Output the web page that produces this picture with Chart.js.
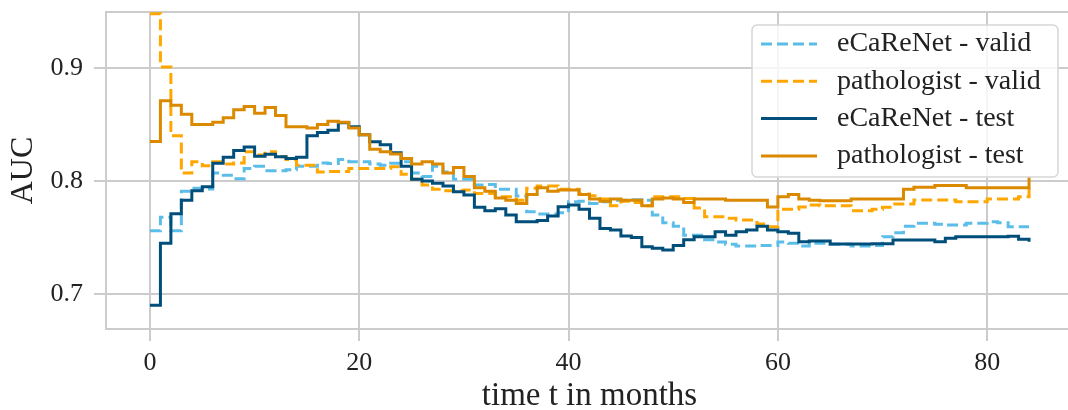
<!DOCTYPE html>
<html>
<head>
<meta charset="utf-8">
<script src="https://cdn.jsdelivr.net/npm/chart.js@4"></script>
<style>
html,body{margin:0;padding:0;background:#fff;overflow:hidden;}
canvas{display:block;}
</style>
</head>
<body>
<canvas id="aucChart" width="1074" height="410"></canvas>
<script>
// step change points (months, AUC)
const ecarenetValidT = [0,1,2,3,4,5,6,7,8,9,10,11,13,14,16,17,18,19,21,22,23,24,25,26,27,28,29,31,32,33,35,36,37,39,40,41,42,43,44,46,47,48,49,50,51,53,54,55,56,58,60,61,62,63,65,67,69,70,71,72,73,75,76,78,80,81,82,84];
const ecarenetValidAuc = [0.756,0.768,0.756,0.791,0.7935,0.793,0.807,0.805,0.802,0.811,0.813,0.809,0.810,0.813,0.816,0.8155,0.819,0.817,0.815,0.814,0.8157,0.817,0.807,0.804,0.813,0.808,0.8015,0.7965,0.797,0.7926,0.7867,0.7728,0.7708,0.772,0.7817,0.782,0.780,0.7817,0.783,0.7835,0.783,0.770,0.763,0.760,0.752,0.748,0.746,0.744,0.7425,0.743,0.746,0.745,0.7425,0.745,0.744,0.7425,0.743,0.7507,0.7543,0.760,0.7626,0.7617,0.761,0.7626,0.764,0.763,0.7596,0.7596];

const pathoValidT = [0,1,2,3,4,5,6,7,8,9,10,11,12,13,14,16,17,19,23,24,25,26,27,28,30,31,33,35,36,37,39,41,42,43,44,45,46,47,48,51,52,53,55,56,58,59,60,62,63,64,67,69,70,71,73,77,80,83,84];
const pathoValidAuc = [0.948,0.901,0.840,0.807,0.817,0.8135,0.817,0.815,0.816,0.826,0.823,0.826,0.8215,0.819,0.814,0.808,0.8085,0.811,0.8127,0.806,0.8015,0.7965,0.7926,0.7914,0.792,0.789,0.786,0.783,0.7935,0.7956,0.7926,0.7885,0.787,0.784,0.778,0.782,0.781,0.778,0.786,0.7845,0.776,0.7684,0.767,0.7655,0.762,0.7596,0.775,0.777,0.7788,0.778,0.7737,0.775,0.7767,0.7796,0.7832,0.7817,0.784,0.786,0.795];

const ecarenetTestT = [0,1,2,3,4,5,6,7,8,9,10,11,12,13,14,15,16,17,18,19,20,21,22,23,24,25,26,27,28,29,30,31,32,33,34,35,37,38,39,40,41,42,43,44,45,46,47,48,49,50,51,52,54,55,56,57,58,59,60,61,62,63,65,69,71,75,76,77,82,83,84];
const ecarenetTestAuc = [0.690,0.745,0.771,0.783,0.7914,0.795,0.8157,0.821,0.827,0.830,0.822,0.8236,0.8215,0.820,0.821,0.840,0.843,0.845,0.8516,0.848,0.841,0.8348,0.832,0.825,0.813,0.8015,0.800,0.798,0.7956,0.7906,0.7876,0.7767,0.7737,0.7755,0.770,0.764,0.765,0.769,0.7773,0.7788,0.775,0.767,0.758,0.7566,0.7513,0.750,0.7419,0.7404,0.739,0.743,0.748,0.7507,0.755,0.752,0.7551,0.7566,0.760,0.7566,0.755,0.7537,0.7463,0.747,0.7442,0.7445,0.7478,0.7463,0.7493,0.7507,0.751,0.7484,0.7463];

const pathoTestT = [0,1,2,3,4,6,7,8,9,10,11,12,13,15,16,17,18,19,20,21,22,23,24,25,26,27,28,29,30,31,32,33,34,35,36,37,38,39,41,42,43,44,45,47,48,49,50,51,52,55,59,60,61,62,63,64,67,72,73,75,78,84];
const pathoTestAuc = [0.835,0.871,0.867,0.859,0.850,0.852,0.856,0.863,0.866,0.860,0.865,0.858,0.848,0.847,0.850,0.853,0.852,0.847,0.841,0.828,0.826,0.824,0.820,0.815,0.817,0.815,0.807,0.812,0.804,0.794,0.791,0.785,0.783,0.780,0.788,0.794,0.791,0.792,0.788,0.784,0.782,0.784,0.783,0.778,0.784,0.785,0.784,0.781,0.784,0.783,0.777,0.786,0.788,0.784,0.783,0.7826,0.784,0.7926,0.7944,0.796,0.794,0.804];

const xTicks = [0,20,40,60,80];
const yTicks = [0.7,0.8,0.9];

const GRID = "#cccccc";
const INK = "#222222";
const SERIF = "'Liberation Serif', 'DejaVu Serif', serif";

function steps(times, auc){
    return times.map((t,i)=>({x:t, y:auc[i]}));
}

// full grey box round the plot area
const framePlugin = {
    id: "frame",
    beforeDatasetsDraw(chart){
        const {ctx, chartArea:a} = chart;
        ctx.save();
        ctx.strokeStyle = GRID;
        ctx.lineWidth = 2;
        ctx.strokeRect(a.left, a.top, a.right-a.left, a.bottom-a.top);
        ctx.restore();
    }
};

// legend box in the upper right corner, matplotlib style
const boxLegend = {
    id: "boxLegend",
    afterDatasetsDraw(chart){
        const ctx = chart.ctx;
        const bx = 752, by = 25, bw = 306, bh = 152;
        ctx.save();
        ctx.beginPath();
        ctx.roundRect(bx, by, bw, bh, 5);
        ctx.fillStyle = "rgba(255,255,255,0.8)";
        ctx.fill();
        ctx.strokeStyle = "#d6d6d6";
        ctx.lineWidth = 1.5;
        ctx.stroke();
        ctx.font = "28px " + SERIF;
        ctx.textBaseline = "middle";
        chart.data.datasets.forEach((ds,i)=>{
            const ly = 44 + i*37.3;
            ctx.beginPath();
            ctx.setLineDash(ds.borderDash || []);
            ctx.strokeStyle = ds.borderColor;
            ctx.lineWidth = ds.borderWidth;
            ctx.moveTo(761, ly);
            ctx.lineTo(817, ly);
            ctx.stroke();
            ctx.setLineDash([]);
            ctx.fillStyle = INK;
            ctx.fillText(ds.label, 837, ly);
        });
        ctx.restore();
    }
};

new Chart(document.getElementById("aucChart"), {
    type: "line",
    data: {
        datasets: [
            {label:"eCaReNet - valid", data:steps(ecarenetValidT, ecarenetValidAuc), borderColor:"#5bbde8", borderDash:[11,5], borderWidth:3, stepped:true, order:4},
            {label:"pathologist - valid", data:steps(pathoValidT, pathoValidAuc), borderColor:"#ffa600", borderDash:[11,5], borderWidth:3, stepped:true, order:3},
            {label:"eCaReNet - test", data:steps(ecarenetTestT, ecarenetTestAuc), borderColor:"#004e7a", borderWidth:3, stepped:true, order:2},
            {label:"pathologist - test", data:steps(pathoTestT, pathoTestAuc), borderColor:"#db8a00", borderWidth:3, stepped:true, order:1}
        ]
    },
    options: {
        responsive: false,
        animation: false,
        layout: {padding: {top: 12, right: 1, bottom: 0, left: 0}},
        elements: {point: {radius: 0}, line: {fill: false}},
        plugins: {legend: {display: false}, tooltip: {enabled: false}},
        scales: {
            x: {
                type: "linear", min: -4.2, max: 88.2,
                afterBuildTicks: s => { s.ticks = xTicks.map(v=>({value:v})); },
                afterFit: s => { s.height = 81; s.paddingLeft = 0; s.paddingRight = 0; },
                grid: {color: GRID, lineWidth: 2, tickLength: 12, tickColor: GRID},
                border: {display: false},
                ticks: {color: INK, font: {family: SERIF, size: 26}, padding: 7, maxRotation: 0, callback: v => String(v)},
                title: {display: true, text: "time t in months", color: INK, font: {family: SERIF, size: 33}, padding: {top: 0, bottom: -6}}
            },
            y: {
                min: 0.669, max: 0.9496,
                afterBuildTicks: s => { s.ticks = yTicks.map(v=>({value:v})); },
                afterFit: s => { s.width = 106; s.paddingTop = 0; s.paddingBottom = 0; },
                grid: {color: GRID, lineWidth: 2, tickLength: 12, tickColor: GRID},
                border: {display: false},
                ticks: {color: INK, font: {family: SERIF, size: 26}, padding: 11, callback: v => v.toFixed(1)},
                title: {display: true, text: "AUC", color: INK, font: {family: SERIF, size: 32}, padding: {top: 4, bottom: 0}}
            }
        }
    },
    plugins: [framePlugin, boxLegend]
});
</script>
</body>
</html>
